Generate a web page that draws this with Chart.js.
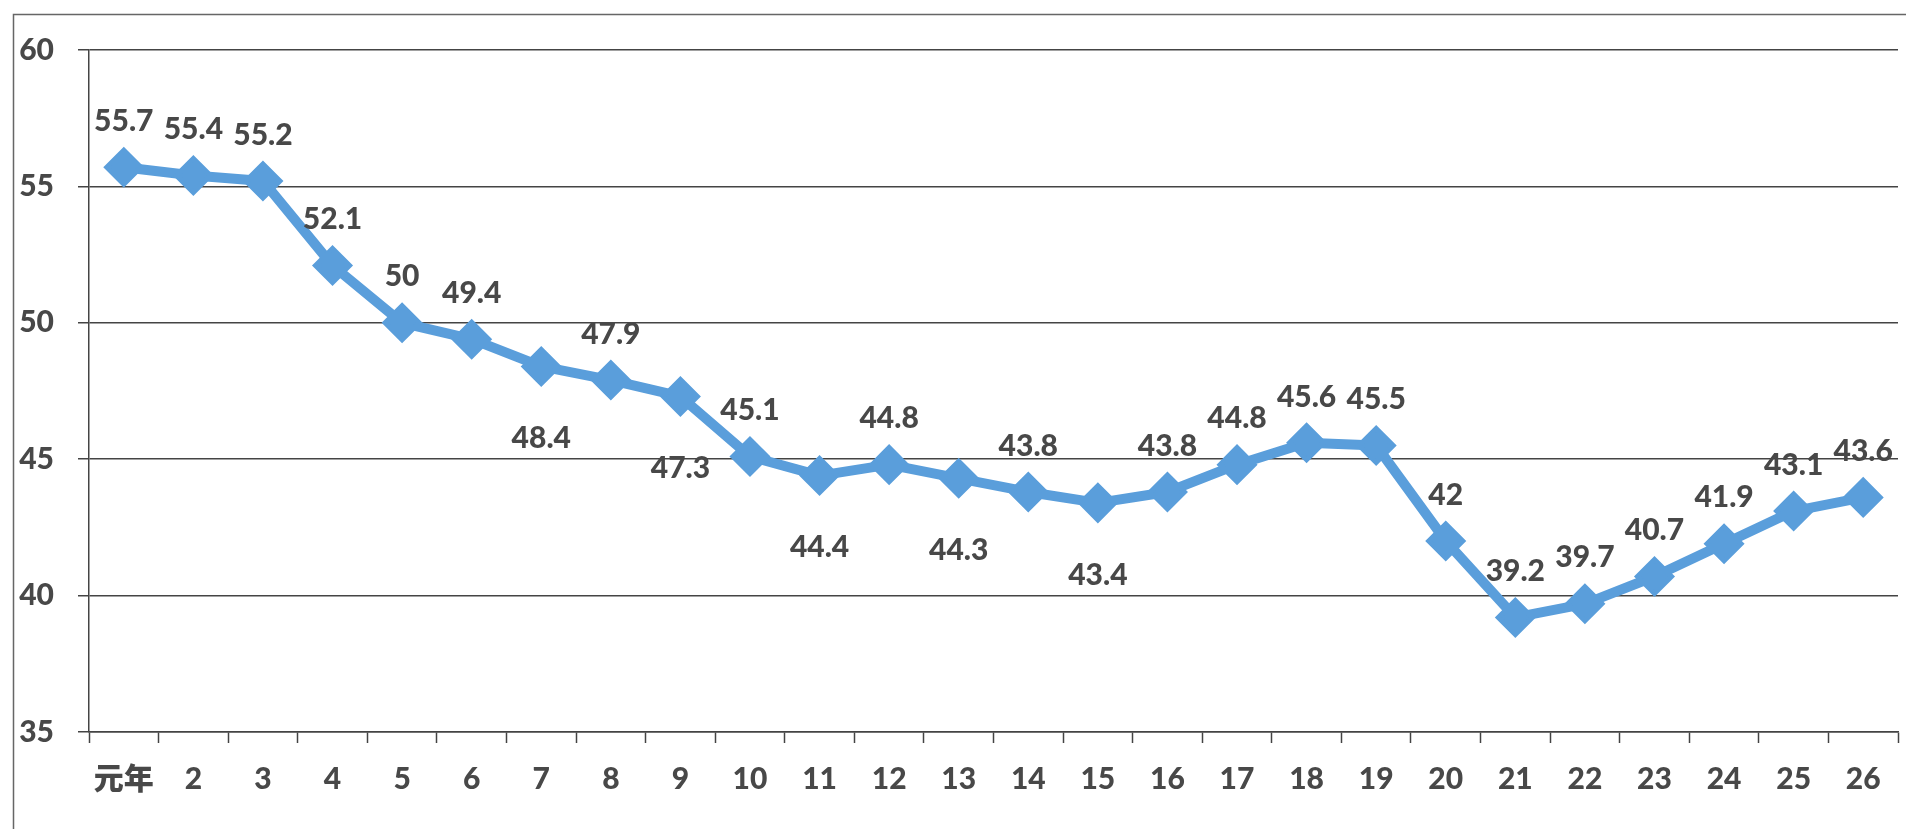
<!DOCTYPE html>
<html>
<head>
<meta charset="utf-8">
<script src="https://cdn.jsdelivr.net/npm/chart.js@4/dist/chart.umd.min.js"></script>
<style>
  html, body { margin: 0; padding: 0; background: #fff; overflow: hidden; }
  #wrap { width: 1920px; height: 829px; position: relative; }
</style>
</head>
<body>
<div id="wrap"><canvas id="chart"></canvas></div>
<script>
// years (ROC): 元年 .. 26
var years = ["元年", "2", "3", "4", "5", "6", "7", "8", "9", "10", "11", "12", "13",
             "14", "15", "16", "17", "18", "19", "20", "21", "22", "23", "24", "25", "26"];
var values = [55.7, 55.4, 55.2, 52.1, 50, 49.4, 48.4, 47.9, 47.3, 45.1, 44.4, 44.8, 44.3,
              43.8, 43.4, 43.8, 44.8, 45.6, 45.5, 42, 39.2, 39.7, 40.7, 41.9, 43.1, 43.6];
// where each value label sits: "a" above the point, "b" below
var labelSide = ["a", "a", "a", "a", "a", "a", "b", "a", "b", "a", "b", "a", "b",
                 "a", "b", "a", "a", "a", "a", "a", "a", "a", "a", "a", "a", "a"];
var yTicks = [35, 40, 45, 50, 55, 60];

var blue = "#5a9edb";
var gray = "#444";
var textGray = "#484848";
var fontFam = "Lato, 'Noto Sans CJK TC', sans-serif";

// outer frame of the scanned chart
var framePlugin = {
  id: "frame",
  beforeDraw: function(chart) {
    var ctx = chart.ctx;
    ctx.save();
    ctx.strokeStyle = "#666";
    ctx.lineWidth = 1.5;
    ctx.beginPath();
    ctx.moveTo(13.5, chart.height);
    ctx.lineTo(13.5, 14.5);
    ctx.lineTo(chart.width, 14.5);
    ctx.stroke();
    ctx.restore();
  }
};

// value labels above / below points
var valueLabels = {
  id: "valueLabels",
  afterDatasetsDraw: function(chart) {
    var ctx = chart.ctx;
    var meta = chart.getDatasetMeta(0);
    ctx.save();
    ctx.font = "900 30px " + fontFam;
    ctx.fillStyle = textGray;
    ctx.textAlign = "center";
    ctx.textBaseline = "middle";
    meta.data.forEach(function(pt, i) {
      var dy = labelSide[i] === "b" ? 72 : -46;
      ctx.fillText(String(values[i]), pt.x, pt.y + dy);
    });
    ctx.restore();
  }
};

var chart = new Chart(document.getElementById("chart"), {
  type: "line",
  data: {
    labels: years,
    datasets: [{
      data: values,
      borderColor: blue,
      backgroundColor: blue,
      borderWidth: 10,
      borderJoinStyle: "round",
      pointStyle: "rectRot",
      pointRadius: 17,
      pointBorderWidth: 5,
      pointBorderColor: blue,
      pointBackgroundColor: blue,
      tension: 0
    }]
  },
  options: {
    responsive: true,
    maintainAspectRatio: false,
    animation: false,
    layout: { padding: { top: 50, left: 0, right: 0, bottom: 0 } },
    plugins: {
      legend: { display: false },
      tooltip: { enabled: false }
    },
    scales: {
      x: {
        offset: true,
        grid: {
          offset: true,
          drawOnChartArea: false,
          drawTicks: true,
          tickLength: 11,
          tickColor: gray,
          tickWidth: 1.5
        },
        border: { display: true, color: gray, width: 1.5 },
        ticks: {
          color: textGray,
          font: { family: fontFam, size: 30, weight: "900" },
          padding: 18,
          maxRotation: 0,
          autoSkip: false
        },
        afterFit: function(scale) { scale.height = 97; }
      },
      y: {
        min: 35,
        max: 60,
        afterBuildTicks: function(scale) {
          scale.ticks = yTicks.map(function(v) { return { value: v }; });
        },
        grid: {
          color: gray,
          lineWidth: 1.5,
          drawTicks: true,
          tickLength: 11
        },
        border: { display: true, color: gray, width: 1.5 },
        ticks: {
          color: textGray,
          font: { family: fontFam, size: 30, weight: "900" },
          padding: 24
        },
        afterFit: function(scale) { scale.width = 89; }
      }
    }
  },
  plugins: [framePlugin, valueLabels]
});
</script>
</body>
</html>
